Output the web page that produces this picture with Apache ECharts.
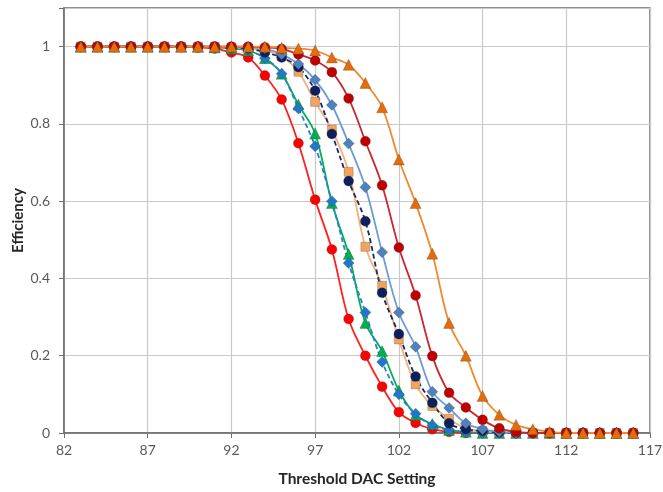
<!DOCTYPE html>
<html>
<head>
<meta charset="utf-8">
<script src="https://cdn.jsdelivr.net/npm/echarts@6/dist/echarts.min.js"></script>
<style>
  html, body { margin: 0; padding: 0; background: #fff; }
  #chart { width: 663px; height: 492px; }
</style>
</head>
<body>
<div id="chart"></div>
<script>
// DAC threshold settings (x) and measured efficiency for each scan
var dacValues = [83,84,85,86,87,88,89,90,91,92,93,94,95,96,97,98,99,100,101,102,103,104,105,106,107,108,109,110,111,112,113,114,115,116];

var effRed = [1,1,1,1,1,1,1,0.998,0.995,0.985,0.972,0.925,0.863,0.75,0.604,0.475,0.295,0.2,0.12,0.054,0.026,0.01,0.003,0,0,0,0,0,0,0,0,0,0,0];
var effGreen = [1,1,1,1,1,1,1,1,0.998,0.995,0.99,0.97,0.93,0.85,0.775,0.595,0.463,0.285,0.212,0.11,0.047,0.023,0.008,0.003,0,0,0,0,0,0,0,0,0,0];
var effBlue = [1,1,1,1,1,1,1,1,0.998,0.995,0.99,0.97,0.93,0.84,0.742,0.6,0.44,0.312,0.184,0.1,0.05,0.02,0.008,0.002,0,0,0,0,0,0,0,0,0,0];
var effSquare = [1,1,1,1,1,1,1,1,1,0.998,0.995,0.99,0.975,0.935,0.857,0.785,0.676,0.482,0.381,0.242,0.126,0.07,0.037,0.012,0.005,0.002,0,0,0,0,0,0,0,0];
var effNavy = [1,1,1,1,1,1,1,1,1,0.998,0.995,0.985,0.972,0.947,0.886,0.774,0.652,0.548,0.363,0.256,0.146,0.078,0.025,0.01,0.005,0.002,0,0,0,0,0,0,0,0];
var effSteel = [1,1,1,1,1,1,1,1,1,1,0.998,0.995,0.98,0.955,0.914,0.849,0.749,0.636,0.468,0.312,0.223,0.107,0.065,0.025,0.01,0.003,0,0,0,0,0,0,0,0];
var effDarkRed = [1,1,1,1,1,1,1,1,1,1,1,0.998,0.994,0.98,0.964,0.934,0.866,0.755,0.641,0.48,0.356,0.199,0.104,0.066,0.034,0.012,0.003,0,0,0,0,0,0,0];
var effOrange = [1,1,1,1,1,1,1,1,1,1,1,1,0.997,0.995,0.99,0.972,0.953,0.906,0.843,0.708,0.595,0.464,0.285,0.2,0.096,0.047,0.021,0.01,0.003,0,0,0,0,0];

function pairs(ys) {
  return dacValues.map(function (x, i) { return [x, ys[i]]; });
}

function scan(ys, symbol, size, fill, lineColor, dashed) {
  return {
    type: 'line',
    data: pairs(ys),
    symbol: symbol,
    symbolSize: size,
    smooth: 0.35,
    itemStyle: { color: fill, borderColor: 'rgba(60,60,60,0.35)', borderWidth: 0.8 },
    lineStyle: { color: lineColor, width: 1.8, type: dashed ? [5, 3] : 'solid' },
    emphasis: { disabled: true }
  };
}

var option = {
  animation: false,
  backgroundColor: '#ffffff',
  textStyle: { fontFamily: 'Lato, "Open Sans", sans-serif' },
  grid: {
    left: 64, right: 13, top: 8, bottom: 59,
    containLabel: false,
    outerBoundsMode: 'none',
    show: true, borderColor: '#6e6e6e', borderWidth: 1.5
  },
  xAxis: {
    type: 'value',
    min: 82, max: 117, interval: 5,
    name: 'Threshold DAC Setting',
    nameLocation: 'middle',
    nameGap: 38,
    nameMoveOverlap: false,
    nameTextStyle: { fontWeight: 'bold', fontSize: 15.5, color: '#262626' },
    axisLine: { show: true, lineStyle: { color: '#6e6e6e', width: 1.5 } },
    axisTick: { show: true, length: 5, lineStyle: { color: '#6e6e6e' } },
    axisLabel: { fontSize: 14, color: '#595959', margin: 10 },
    splitLine: { show: true, lineStyle: { color: '#c8c8c8', width: 1.2 } }
  },
  yAxis: {
    type: 'value',
    min: 0, max: 1.1, interval: 0.2,
    name: 'Efficiency',
    nameLocation: 'middle',
    nameGap: 38,
    nameMoveOverlap: false,
    nameTextStyle: { fontWeight: 'bold', fontSize: 15, color: '#262626' },
    axisLine: { show: true, lineStyle: { color: '#6e6e6e', width: 1.5 } },
    axisTick: { show: true, length: 5, lineStyle: { color: '#6e6e6e' } },
    axisLabel: {
      fontSize: 14, color: '#595959', margin: 14,
      formatter: function (v) { return v > 1.05 ? '' : String(Math.round(v * 10) / 10); }
    },
    splitLine: { show: true, lineStyle: { color: '#c8c8c8', width: 1.2 } }
  },
  series: [
    scan(effRed, 'circle', 10, '#ff0000', '#ff2020', false),
    scan(effGreen, 'triangle', 11, '#00b050', '#00b050', false),
    scan(effBlue, 'diamond', 11, '#1f78c8', '#2a7fd0', true),
    scan(effSquare, 'rect', 9, '#f2a35e', '#f5b07a', false),
    scan(effNavy, 'circle', 10, '#0d1f5c', '#142a6a', true),
    scan(effSteel, 'diamond', 11, '#4f81bd', '#6a9bd8', false),
    scan(effDarkRed, 'circle', 10, '#c00000', '#c8282d', false),
    scan(effOrange, 'triangle', 11, '#e46c0a', '#f08a30', false)
  ]
};

var mychart = echarts.init(document.getElementById('chart'));
mychart.setOption(option);
</script>
</body>
</html>
